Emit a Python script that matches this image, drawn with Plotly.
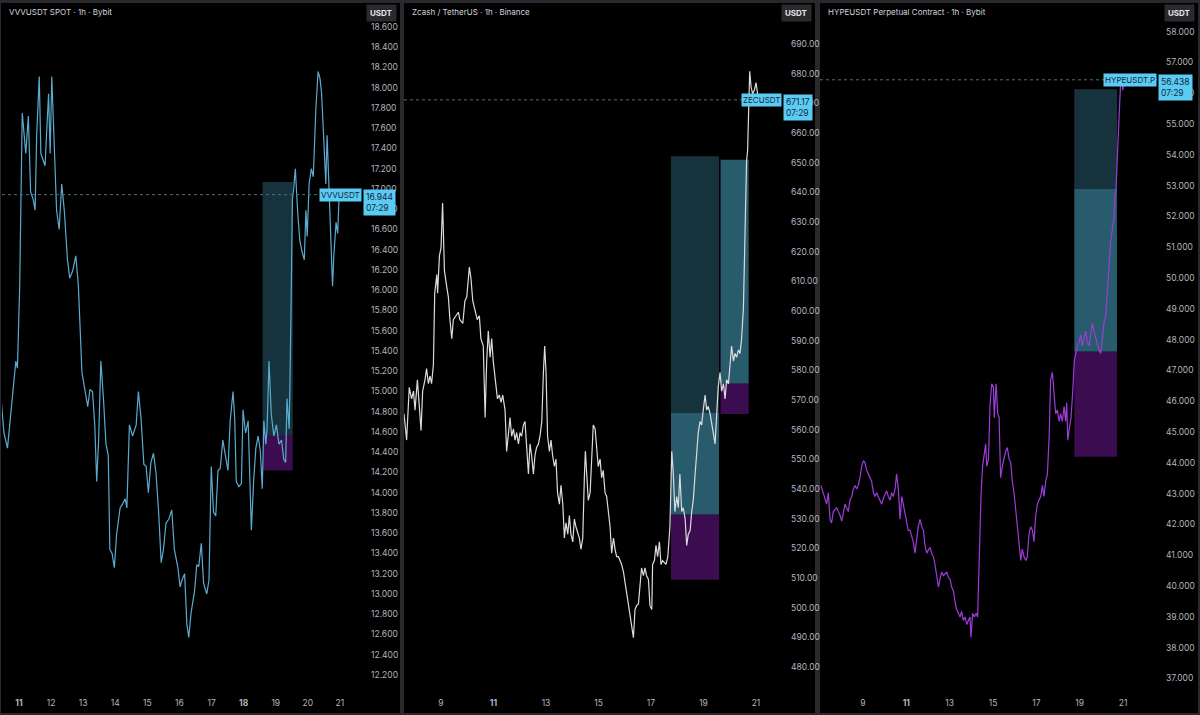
import plotly.graph_objects as go

W, H = 1200, 715

# ---------------- data ----------------
# VVVUSDT SPOT - 1h - Bybit (time in days of the month)
vvv_t = [10.43, 10.53, 10.64, 10.74, 10.90, 10.95, 11.02, 11.10, 11.21, 11.29,
         11.36, 11.44, 11.50, 11.55, 11.63, 11.68, 11.81, 11.92, 11.97, 12.02,
         12.09, 12.17, 12.25, 12.33, 12.41, 12.51, 12.58, 12.67, 12.77, 12.85,
         12.96, 13.06, 13.14, 13.21, 13.29, 13.36, 13.42, 13.48, 13.55, 13.63,
         13.71, 13.78, 13.83, 13.90, 13.97, 14.04, 14.15, 14.23, 14.31, 14.36,
         14.44, 14.54, 14.65, 14.72, 14.80, 14.89, 14.96, 15.03, 15.11, 15.19,
         15.27, 15.35, 15.43, 15.50, 15.58, 15.67, 15.76, 15.84, 15.95, 16.02,
         16.08, 16.16, 16.23, 16.29, 16.36, 16.47, 16.54, 16.60, 16.68, 16.75,
         16.85, 16.92, 16.99, 17.06, 17.13, 17.20, 17.27, 17.35, 17.44, 17.51,
         17.58, 17.67, 17.72, 17.77, 17.85, 17.93, 17.98, 18.06, 18.14, 18.19,
         18.24, 18.31, 18.38, 18.45, 18.52, 18.58, 18.63, 18.69, 18.73, 18.79,
         18.86, 18.94, 19.02, 19.10, 19.18, 19.25, 19.31, 19.35, 19.42, 19.47,
         19.52, 19.56, 19.61, 19.68, 19.75, 19.82, 19.89, 19.94, 19.98, 20.04,
         20.11, 20.17, 20.25, 20.32, 20.38, 20.43, 20.50, 20.56, 20.60, 20.67,
         20.72, 20.77, 20.81, 20.88, 20.93, 20.98, 21.02]
vvv_p = [14.97, 14.59, 14.44, 14.78, 15.30, 15.23, 16.04, 17.75, 17.35, 17.72,
         16.97, 16.90, 16.79, 17.53, 18.11, 17.35, 17.23, 17.94, 17.35, 18.11,
         17.53, 16.79, 16.60, 17.05, 16.79, 16.30, 16.12, 16.19, 16.34, 16.04,
         15.19, 15.00, 14.85, 15.02, 15.00, 14.67, 14.11, 14.52, 15.30, 14.93,
         14.48, 14.37, 13.44, 13.40, 13.26, 13.59, 13.85, 13.89, 13.94, 13.85,
         14.67, 14.56, 14.67, 15.00, 14.74, 14.28, 14.26, 14.00, 14.30, 14.39,
         14.19, 13.81, 13.31, 13.44, 13.70, 13.74, 13.83, 13.44, 13.26, 13.07,
         13.14, 13.20, 12.70, 12.57, 12.81, 13.03, 13.29, 13.27, 13.50, 13.11,
         13.00, 13.14, 14.26, 13.81, 13.77, 14.22, 14.24, 14.52, 14.33, 14.22,
         14.71, 15.00, 14.74, 14.11, 14.06, 14.09, 14.82, 14.59, 14.71, 14.19,
         13.63, 14.11, 14.44, 14.56, 14.41, 14.04, 14.71, 14.48, 14.63, 15.30,
         14.78, 14.56, 14.67, 14.48, 14.52, 14.33, 14.30, 14.93, 14.63, 15.67,
         16.90, 17.01, 17.20, 16.79, 16.49, 16.38, 16.30, 16.79, 16.53, 17.05,
         17.20, 17.12, 17.79, 18.16, 18.09, 17.94, 17.53, 17.05, 17.53, 16.86,
         16.53, 16.04, 16.34, 16.67, 16.56, 16.97, 16.944]
vvv_last = 16.944

# Zcash / TetherUS - 1h - Binance
zec_t = [7.59, 7.69, 7.79, 7.88, 7.95, 8.01, 8.10, 8.17, 8.24, 8.30,
         8.39, 8.45, 8.52, 8.58, 8.64, 8.71, 8.76, 8.84, 8.87, 8.94,
         9.00, 9.06, 9.13, 9.19, 9.28, 9.34, 9.41, 9.47, 9.57, 9.66,
         9.72, 9.83, 9.91, 9.98, 10.08, 10.14, 10.21, 10.30, 10.38, 10.46,
         10.52, 10.61, 10.68, 10.74, 10.80, 10.87, 10.93, 10.99, 11.06, 11.15,
         11.22, 11.29, 11.35, 11.44, 11.50, 11.57, 11.63, 11.69, 11.76, 11.82,
         11.88, 11.95, 12.01, 12.07, 12.14, 12.20, 12.26, 12.33, 12.39, 12.45,
         12.52, 12.58, 12.64, 12.71, 12.77, 12.84, 12.90, 12.95, 13.00, 13.06,
         13.13, 13.19, 13.25, 13.32, 13.38, 13.44, 13.51, 13.57, 13.64, 13.70,
         13.76, 13.83, 13.89, 13.95, 14.02, 14.08, 14.14, 14.21, 14.27, 14.33,
         14.40, 14.46, 14.50, 14.55, 14.61, 14.68, 14.74, 14.80, 14.87, 14.93,
         14.99, 15.06, 15.12, 15.18, 15.25, 15.31, 15.37, 15.44, 15.50, 15.57,
         15.63, 15.69, 15.76, 15.82, 15.88, 15.95, 16.01, 16.07, 16.14, 16.20,
         16.26, 16.33, 16.39, 16.45, 16.52, 16.58, 16.64, 16.71, 16.77, 16.83,
         16.90, 16.96, 17.03, 17.06, 17.13, 17.19, 17.25, 17.32, 17.38, 17.44,
         17.51, 17.57, 17.64, 17.72, 17.79, 17.85, 17.91, 17.98, 18.04, 18.10,
         18.17, 18.23, 18.30, 18.36, 18.42, 18.49, 18.55, 18.61, 18.68, 18.74,
         18.80, 18.87, 18.93, 18.99, 19.06, 19.12, 19.18, 19.25, 19.31, 19.37,
         19.44, 19.50, 19.56, 19.63, 19.69, 19.76, 19.82, 19.88, 19.95, 20.01,
         20.07, 20.14, 20.20, 20.26, 20.33, 20.39, 20.45, 20.52, 20.58, 20.64,
         20.68, 20.72, 20.76, 20.81, 20.87, 20.94, 21.00, 21.06, 21.11]
zec_p = [565.4, 556.5, 574.3, 570.4, 573.0, 566.6, 576.8, 569.2, 559.7, 573.0,
         576.8, 580.6, 575.5, 578.1, 575.5, 581.9, 606.0, 612.3, 606.0, 618.7,
         621.2, 636.4, 613.6, 609.8, 604.7, 597.1, 590.7, 597.1, 598.4, 599.6,
         597.1, 595.8, 603.4, 604.7, 614.8, 611.0, 603.4, 599.6, 597.1, 598.4,
         590.7, 588.2, 564.1, 583.1, 593.3, 584.4, 590.7, 583.1, 578.1, 570.4,
         571.7, 569.2, 571.7, 566.6, 552.7, 557.8, 564.1, 557.8, 560.3, 556.5,
         559.0, 555.2, 559.0, 557.8, 561.6, 562.8, 554.0, 545.1, 555.2, 551.4,
         545.1, 551.4, 554.0, 555.2, 557.8, 562.8, 579.3, 588.2, 579.3, 557.8,
         552.7, 556.5, 551.4, 547.6, 550.1, 538.7, 534.9, 541.3, 534.9, 523.5,
         528.6, 524.8, 531.1, 524.8, 522.2, 529.9, 527.3, 524.8, 523.5, 519.7,
         523.5, 543.8, 552.7, 545.1, 536.2, 538.7, 551.4, 561.6, 560.3, 552.7,
         547.6, 550.1, 543.8, 546.3, 538.7, 537.5, 532.4, 527.3, 518.4, 523.5,
         519.7, 517.2, 517.2, 515.9, 514.6, 512.1, 508.3, 505.7, 500.7, 496.9,
         493.1, 489.9, 499.4, 500.7, 501.3, 507.0, 513.4, 510.8, 513.4, 510.8,
         509.6, 500.7, 499.4, 514.6, 515.9, 521.0, 517.2, 522.2, 514.6, 515.9,
         515.3, 514.6, 517.2, 527.3, 552.7, 545.1, 532.4, 537.5, 533.7, 545.1,
         532.4, 533.7, 529.9, 521.0, 524.8, 526.0, 532.4, 536.2, 545.1, 554.0,
         559.0, 562.8, 561.6, 566.6, 571.7, 566.6, 567.9, 565.4, 562.8, 559.0,
         555.2, 565.4, 574.3, 579.3, 573.0, 575.5, 570.4, 576.8, 575.5, 581.9,
         588.2, 583.1, 585.7, 584.4, 586.9, 585.7, 590.7, 600.9, 632.6, 650.4,
         654.2, 669.4, 680.8, 675.7, 673.2, 674.5, 677.0, 673.2, 671.17]
zec_last = 671.17

# HYPEUSDT Perpetual Contract - 1h - Bybit
hype_t = [7.06, 7.17, 7.25, 7.32, 7.40, 7.48, 7.55, 7.63, 7.71, 7.79,
          7.86, 7.94, 8.02, 8.09, 8.17, 8.25, 8.32, 8.40, 8.48, 8.55,
          8.63, 8.71, 8.78, 8.86, 8.94, 9.02, 9.09, 9.17, 9.25, 9.32,
          9.40, 9.48, 9.55, 9.63, 9.71, 9.78, 9.86, 9.94, 10.02, 10.09,
          10.17, 10.25, 10.32, 10.40, 10.48, 10.55, 10.63, 10.71, 10.79, 10.86,
          10.94, 11.02, 11.09, 11.17, 11.25, 11.32, 11.40, 11.48, 11.55, 11.63,
          11.71, 11.79, 11.86, 11.94, 12.02, 12.09, 12.17, 12.25, 12.32, 12.40,
          12.48, 12.55, 12.63, 12.71, 12.79, 12.86, 12.94, 13.02, 13.09, 13.17,
          13.25, 13.32, 13.40, 13.48, 13.55, 13.63, 13.71, 13.79, 13.86, 13.94,
          13.98, 14.06, 14.14, 14.22, 14.29, 14.37, 14.45, 14.52, 14.60, 14.66,
          14.71, 14.79, 14.86, 14.94, 15.02, 15.06, 15.14, 15.22, 15.28, 15.35,
          15.43, 15.51, 15.58, 15.66, 15.74, 15.82, 15.89, 15.97, 16.05, 16.12,
          16.20, 16.28, 16.35, 16.43, 16.51, 16.58, 16.66, 16.74, 16.82, 16.89,
          16.97, 17.05, 17.12, 17.20, 17.28, 17.35, 17.43, 17.51, 17.59, 17.66,
          17.74, 17.82, 17.89, 17.97, 18.05, 18.12, 18.20, 18.28, 18.35, 18.40,
          18.45, 18.52, 18.60, 18.68, 18.75, 18.82, 18.89, 18.97, 19.05, 19.12,
          19.20, 19.28, 19.35, 19.43, 19.51, 19.58, 19.66, 19.74, 19.82, 19.89,
          19.97, 20.05, 20.12, 20.20, 20.28, 20.35, 20.43, 20.51, 20.58, 20.63,
          20.68, 20.75, 20.82, 20.88, 20.94, 20.99, 21.03, 21.08]
hype_p = [43.27, 43.03, 42.79, 42.66, 43.03, 42.17, 42.05, 42.42, 42.48, 42.54,
          42.42, 42.30, 42.11, 42.42, 42.66, 42.54, 42.42, 42.79, 42.91, 43.15,
          43.27, 43.15, 43.27, 43.52, 43.89, 44.07, 44.01, 43.76, 43.64, 43.52,
          43.40, 43.03, 42.91, 43.03, 42.91, 42.79, 42.66, 42.85, 42.97, 43.09,
          42.91, 42.79, 43.03, 42.91, 43.15, 43.64, 43.15, 42.17, 42.91, 42.66,
          42.30, 42.05, 41.81, 41.81, 41.56, 41.44, 41.07, 41.56, 41.93, 42.17,
          41.93, 41.81, 41.32, 41.07, 41.20, 41.26, 41.07, 40.95, 40.71, 40.34,
          39.97, 40.22, 40.46, 40.34, 40.40, 40.46, 40.28, 40.22, 39.97, 39.85,
          39.49, 39.24, 39.12, 39.00, 39.18, 38.88, 39.00, 38.75, 38.88, 39.00,
          38.33, 39.12, 39.00, 39.12, 39.00, 41.20, 43.03, 43.89, 44.37, 44.62,
          43.89, 44.13, 45.84, 46.57, 46.45, 45.47, 46.57, 45.60, 45.47, 43.52,
          43.89, 44.13, 44.37, 44.50, 44.13, 44.01, 43.40, 43.03, 42.42, 41.93,
          41.32, 40.83, 41.20, 40.95, 40.83, 40.95, 41.69, 41.93, 41.81, 41.44,
          42.30, 42.66, 42.79, 42.91, 43.27, 42.91, 43.40, 43.64, 44.86, 46.70,
          46.94, 46.08, 45.60, 45.72, 45.35, 45.60, 45.35, 45.84, 45.35, 45.96,
          44.74, 45.11, 45.47, 46.33, 47.31, 47.55, 47.80, 47.92, 48.16, 47.80,
          48.04, 48.28, 47.92, 47.80, 48.16, 48.53, 48.28, 48.04, 47.80, 47.67,
          47.55, 48.04, 48.53, 48.77, 49.51, 50.24, 51.22, 51.58, 51.95, 52.68,
          52.93, 54.15, 55.37, 56.23, 56.59, 56.10, 56.35, 56.438]
hype_last = 56.438

# position boxes: time span and price levels (bottom -> top)
vvv_box_t = [18.59, 19.53]
vvv_box_lv = [14.22, 14.57, 17.07]
zec_box1_t = [17.76, 19.59]
zec_box1_lv = [509.4, 531.4, 565.6, 652.2]
zec_box2_t = [19.65, 20.72]
zec_box2_lv = [565.3, 575.6, 651.0]
hype_box_t = [18.75, 20.72]
hype_box_lv = [44.2, 47.62, 52.89, 56.13]

# axis ticks
vvv_days = [11, 12, 13, 14, 15, 16, 17, 18, 19, 20, 21]
vvv_day_txt = ["<b>11</b>", "12", "13", "14", "15", "16", "17", "<b>18</b>", "19", "20", "21"]
odd_days = [9, 11, 13, 15, 17, 19, 21]
odd_day_txt = ["9", "<b>11</b>", "13", "15", "17", "19", "21"]
vvv_yticks = [round(12.2 + 0.2 * k, 1) for k in range(33)]      # 12.2 .. 18.6
zec_yticks = list(range(480, 691, 10))                           # 480 .. 690
hype_yticks = list(range(37, 59))                                # 37 .. 58

titles = ["VVVUSDT SPOT · 1h · Bybit",
          "Zcash / TetherUS · 1h · Binance",
          "HYPEUSDT Perpetual Contract · 1h · Bybit"]
symbols = ["VVVUSDT", "ZECUSDT", "HYPEUSDT.P"]
countdown = "07:29"

# ---------------- styling ----------------
DARK = "#16333d"
LIGHT = "#285b6b"
PURPLE = "#3b0d50"
LABEL_BG = "#5ccbf4"
TICK = "#b2b5be"
FONT = "Inter"


def fx(px):
    return px / W


def fy(py):
    return 1 - py / H


panels = [
    dict(t=vvv_t, p=vvv_p, last=vvv_last, color="#5aabd0", fmt=".3f", yticks=vvv_yticks,
         box=[(vvv_box_t, vvv_box_lv, [PURPLE, DARK])],
         ticks=(vvv_days, vvv_day_txt),
         frame=(1, 400), pane=(2, 362), xr=[10.469, 21.688], yr=[12.032, 18.817]),
    dict(t=zec_t, p=zec_p, last=zec_last, color="#dcdcdc", fmt=".2f", yticks=zec_yticks,
         box=[(zec_box1_t, zec_box1_lv, [PURPLE, LIGHT, DARK]),
              (zec_box2_t, zec_box2_lv, [PURPLE, LIGHT])],
         ticks=(odd_days, odd_day_txt),
         frame=(404, 815), pane=(404, 782), xr=[7.590, 21.990], yr=[471.60, 703.14]),
    dict(t=hype_t, p=hype_p, last=hype_last, color="#9d3cdb", fmt=".3f", yticks=hype_yticks,
         box=[(hype_box_t, hype_box_lv, [PURPLE, LIGHT, DARK])],
         ticks=(odd_days, odd_day_txt),
         frame=(820, 1198), pane=(820, 1157), xr=[7.016, 22.567], yr=[36.562, 58.867]),
]

fig = go.Figure()
shapes = []
annotations = []
layout = {}

PANE_TOP, PANE_BOT = 5, 692

for i, pn in enumerate(panels):
    n = "" if i == 0 else str(i + 1)
    xa, ya = "x" + n, "y" + n

    # panel background
    shapes.append(dict(type="rect", xref="paper", yref="paper", layer="below",
                       x0=fx(pn["frame"][0]), x1=fx(pn["frame"][1]), y0=fy(713), y1=fy(3),
                       fillcolor="#000000", line=dict(width=0)))

    # position tool boxes
    for bt, lv, cols in pn["box"]:
        for k, c in enumerate(cols):
            shapes.append(dict(type="rect", xref=xa, yref=ya, layer="below",
                               x0=bt[0], x1=bt[1], y0=lv[k], y1=lv[k + 1],
                               fillcolor=c, line=dict(width=0)))

    # last price dotted line
    shapes.append(dict(type="line", xref=xa + " domain", yref=ya, x0=0, x1=1,
                       y0=pn["last"], y1=pn["last"],
                       line=dict(color="#4f6f80", width=1, dash="dot")))

    fig.add_trace(go.Scatter(x=pn["t"], y=pn["p"], mode="lines", xaxis=xa, yaxis=ya,
                             line=dict(color=pn["color"], width=1.2), showlegend=False,
                             hoverinfo="skip"))

    layout["xaxis" + n] = dict(domain=[fx(pn["pane"][0]), fx(pn["pane"][1])], range=pn["xr"],
                               anchor=ya, showgrid=False, zeroline=False, showline=False,
                               ticks="", tickvals=pn["ticks"][0], ticktext=pn["ticks"][1],
                               ticklabelstandoff=4,
                               tickfont=dict(family=FONT, size=8.5, color=TICK), fixedrange=True)
    layout["yaxis" + n] = dict(domain=[fy(PANE_BOT), fy(PANE_TOP)], range=pn["yr"], anchor=xa,
                               side="right", showgrid=False, zeroline=False, showline=False,
                               ticks="", tickvals=pn["yticks"], tickformat=pn["fmt"],
                               ticklabelstandoff=8,
                               tickfont=dict(family=FONT, size=8.5, color=TICK), fixedrange=True)

    # title
    annotations.append(dict(xref="paper", yref="paper", x=fx(pn["frame"][0] + 6), y=fy(11.5),
                            xanchor="left", yanchor="middle", showarrow=False, text=titles[i],
                            font=dict(family=FONT, size=8, color="#d1d4dc")))
    # USDT button
    annotations.append(dict(xref="paper", yref="paper", x=fx(pn["frame"][1] - 3), y=fy(12.5),
                            xanchor="right", yanchor="middle", showarrow=False,
                            text="<b>USDT</b>", bgcolor="#2a2a2e", borderpad=3,
                            font=dict(family=FONT, size=8, color="#e6e6e6")))
    # symbol label and price label
    annotations.append(dict(xref=xa + " domain", yref=ya, x=1, y=pn["last"],
                            xanchor="right", yanchor="middle", showarrow=False,
                            text=symbols[i], bgcolor=LABEL_BG, borderpad=1,
                            font=dict(family=FONT, size=8, color="#0c2a3a")))
    annotations.append(dict(xref=xa + " domain", yref=ya, x=1, y=pn["last"], xshift=1,
                            xanchor="left", yanchor="top", yshift=6, showarrow=False,
                            align="left",
                            text=f"{pn['last']:{pn['fmt']}}<br>{countdown}",
                            bgcolor=LABEL_BG, borderpad=2,
                            font=dict(family=FONT, size=8.5, color="#0c2a3a")))

fig.update_layout(
    width=W, height=H,
    margin=dict(l=0, r=0, t=0, b=0),
    paper_bgcolor="#29292d",
    plot_bgcolor="#000000",
    shapes=shapes,
    annotations=annotations,
    **layout,
)

# remove the default page margin so the figure fills the window
fig.write_html("out.html", config={"displayModeBar": False},
               post_script="document.body.style.margin='0';document.body.style.overflow='hidden';")
